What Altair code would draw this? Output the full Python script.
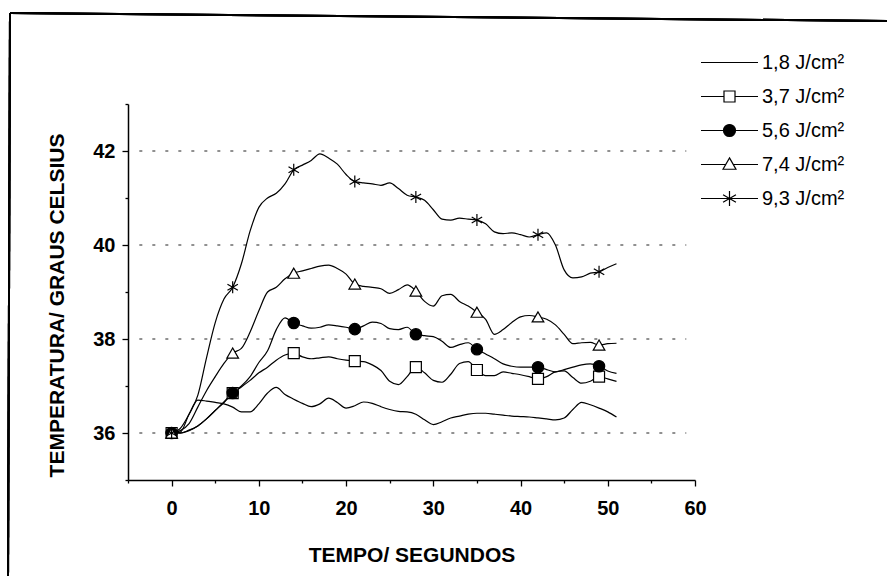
import altair as alt
import pandas as pd

# Tempo (s) e temperatura (°C) para cada fluência
time_s = list(range(0, 52))

temp_18 = [36.00, 36.02, 36.40, 36.70, 36.68, 36.65, 36.62, 36.55, 36.45, 36.45,
           36.62, 36.85, 36.97, 36.82, 36.72, 36.63, 36.56, 36.62, 36.74, 36.65,
           36.53, 36.58, 36.66, 36.63, 36.56, 36.50, 36.46, 36.45, 36.40, 36.28,
           36.18, 36.24, 36.32, 36.36, 36.40, 36.42, 36.42, 36.40, 36.38, 36.36,
           36.35, 36.34, 36.32, 36.30, 36.28, 36.32, 36.50, 36.65, 36.60, 36.53,
           36.45, 36.34]

temp_37 = [36.00, 36.00, 36.06, 36.15, 36.30, 36.48, 36.66, 36.85, 36.98, 37.12,
           37.28, 37.40, 37.55, 37.66, 37.70, 37.62, 37.58, 37.60, 37.62, 37.58,
           37.55, 37.53, 37.52, 37.45, 37.33, 37.10, 37.03, 37.20, 37.40, 37.28,
           37.12, 37.08, 37.25, 37.48, 37.52, 37.34, 37.22, 37.22, 37.30, 37.27,
           37.24, 37.20, 37.15, 37.20, 37.30, 37.32, 37.18, 37.06, 37.10, 37.20,
           37.15, 37.10]

temp_56 = [36.00, 36.00, 36.05, 36.15, 36.30, 36.48, 36.65, 36.85, 37.00, 37.20,
           37.50, 37.75, 38.20, 38.45, 38.34, 38.28, 38.23, 38.25, 38.30, 38.28,
           38.25, 38.21, 38.28, 38.36, 38.33, 38.22, 38.20, 38.25, 38.10, 38.07,
           38.05, 37.95, 37.82, 37.88, 37.92, 37.78, 37.68, 37.58, 37.47, 37.42,
           37.40, 37.40, 37.40, 37.35, 37.30, 37.35, 37.40, 37.45, 37.47, 37.42,
           37.32, 37.27]

temp_74 = [36.00, 36.05, 36.20, 36.55, 36.90, 37.20, 37.48, 37.70, 37.80, 38.15,
           38.60, 39.00, 39.10, 39.28, 39.40, 39.45, 39.50, 39.55, 39.57, 39.50,
           39.38, 39.17, 39.12, 39.10, 39.07, 38.97, 39.05, 39.15, 39.02, 38.80,
           38.70, 38.92, 38.95, 38.80, 38.70, 38.57, 38.42, 38.10, 38.20, 38.35,
           38.47, 38.50, 38.47, 38.42, 38.30, 38.10, 37.90, 37.92, 37.93, 37.87,
           37.90, 37.91]

temp_93 = [36.00, 36.10, 36.40, 36.80, 37.60, 38.35, 38.85, 39.10, 39.60, 40.30,
           40.80, 41.00, 41.10, 41.30, 41.60, 41.70, 41.80, 41.94, 41.85, 41.72,
           41.50, 41.35, 41.32, 41.30, 41.27, 41.32, 41.20, 41.06, 41.02, 40.95,
           40.75, 40.55, 40.53, 40.57, 40.55, 40.53, 40.45, 40.28, 40.24, 40.26,
           40.22, 40.17, 40.22, 40.26, 40.00, 39.47, 39.30, 39.32, 39.40, 39.43,
           39.52, 39.60]

series_labels = ["1,8 J/cm²", "3,7 J/cm²", "5,6 J/cm²", "7,4 J/cm²", "9,3 J/cm²"]
marker_times = [0, 7, 14, 21, 28, 35, 42, 49]
grid_values = [36, 38, 40, 42]

rows = []
for order, (label, values) in enumerate(
        zip(series_labels, [temp_18, temp_37, temp_56, temp_74, temp_93])):
    for t, v in zip(time_s, values):
        rows.append({"serie": label, "ordem": order, "t": t, "temp": v})
df = pd.DataFrame(rows)
grid_df = pd.DataFrame({"temp": grid_values})

FONT = "Liberation Sans"
STAR = "M0,-1V1M-0.87,-0.5L0.87,0.5M-0.87,0.5L0.87,-0.5"

x_enc = alt.X(
    "t:Q",
    scale=alt.Scale(domain=[-5, 60], nice=False, zero=False),
    axis=alt.Axis(
        values=list(range(-5, 61, 5)),
        labelExpr="datum.value % 10 === 0 ? datum.label : ''",
        tickSize={"condition": {"test": "datum.value % 10 === 0", "value": 6}, "value": 3},
        grid=False, domainColor="black", domainWidth=1.5, tickColor="black",
        tickWidth=1.3, labelFont=FONT, labelFontSize=20, labelFontWeight="bold",
        labelColor="black", labelPadding=12, labelFlush=False, labelOverlap=False,
        title="TEMPO/ SEGUNDOS", titleFont=FONT, titleFontSize=21,
        titleFontWeight="bold", titleColor="black", titleY=75,
        titleBaseline="middle",
    ),
)
y_enc = alt.Y(
    "temp:Q",
    scale=alt.Scale(domain=[35, 43], nice=False, zero=False),
    axis=alt.Axis(
        values=list(range(35, 44)),
        labelExpr="datum.value % 2 === 0 ? datum.label : ''",
        tickSize={"condition": {"test": "datum.value % 2 === 0", "value": 6}, "value": 3},
        grid=False, domainColor="black", domainWidth=1.5, tickColor="black",
        tickWidth=1.3, labelFont=FONT, labelFontSize=20, labelFontWeight="bold",
        labelColor="black", labelPadding=7, labelFlush=False, labelOverlap=False,
        title="TEMPERATURA/ GRAUS CELSIUS", titleFont=FONT, titleFontSize=21,
        titleFontWeight="bold", titleColor="black", titleAngle=270, titleX=-71,
        titleY=201, titleBaseline="middle",
    ),
)

# Linhas pontilhadas de referência
grid = alt.Chart(grid_df).mark_rule(
    color="#222222", strokeWidth=1, strokeDash=[3, 10]
).encode(y=y_enc, x=alt.datum(-3.7), x2=alt.datum(59))

# Curvas de temperatura
lines = alt.Chart(df).mark_line(
    color="black", strokeWidth=1.2, interpolate="monotone"
).encode(x=x_enc, y=y_enc, detail="serie:N")

# Marcadores a cada 7 s
marked = series_labels[1:]
markers = alt.Chart(df).transform_filter(
    alt.FieldOneOfPredicate(field="t", oneOf=marker_times)
).transform_filter(
    alt.datum.ordem > 0
).mark_point(stroke="black", strokeWidth=1.2, opacity=1).encode(
    x=x_enc, y=y_enc,
    shape=alt.Shape("serie:N", scale=alt.Scale(
        domain=marked, range=["square", "circle", "triangle-up", STAR]), legend=None),
    fill=alt.Fill("serie:N", scale=alt.Scale(
        domain=marked, range=["white", "black", "white", "transparent"]), legend=None),
    size=alt.Size("serie:N", scale=alt.Scale(
        domain=marked, range=[121, 144, 169, 225]), legend=None),
    order=alt.Order("ordem:Q"),
)

# Legenda: traço com o marcador de cada série
legend_paths = [
    "M-3,0H3",
    "M-3,0H-0.58M0.58,0H3M-0.58,-0.58H0.58V0.58H-0.58Z",
    "M-3,0H3M0.63,0A0.63,0.63,0,1,1,-0.63,0A0.63,0.63,0,1,1,0.63,0Z",
    "M-3,0H-0.4M0.4,0H3M0,-0.7L0.68,0.5H-0.68Z",
    "M-3,0H3M0,-0.78V0.78M-0.68,-0.39L0.68,0.39M-0.68,0.39L0.68,-0.39",
]
legend_cfg = alt.Legend(
    title=None, orient="none", legendX=591, legendY=-52, padding=0,
    symbolSize=361, symbolStrokeWidth=1.2,
    labelFont=FONT, labelFontSize=20, labelColor="black", labelOffset=22,
    rowPadding=13, labelLimit=300,
)
legend_layer = alt.Chart(df).transform_filter("false").mark_point(
    strokeWidth=1.2, opacity=1, size=361
).encode(
    x=x_enc, y=y_enc,
    shape=alt.Shape("serie:N", scale=alt.Scale(domain=series_labels, range=legend_paths),
                    legend=legend_cfg),
    fill=alt.Fill("serie:N", scale=alt.Scale(
        domain=series_labels, range=["transparent", "white", "black", "white", "transparent"]),
        legend=legend_cfg),
    stroke=alt.Stroke("serie:N", scale=alt.Scale(
        domain=series_labels, range=["black"] * 5), legend=legend_cfg),
)

# Moldura da figura
frame_top = alt.Chart(grid_df).mark_rule(color="black", strokeWidth=2).encode(
    x=alt.value(-118), x2=alt.value(759), y=alt.value(-91), y2=alt.value(-83))
frame_left = alt.Chart(grid_df).mark_rule(color="black", strokeWidth=2).encode(
    x=alt.value(-118), x2=alt.value(-120), y=alt.value(-91), y2=alt.value(480))

chart = alt.layer(
    frame_top, frame_left, grid, lines, markers, legend_layer
).resolve_scale(
    shape="independent", fill="independent", size="independent", stroke="independent"
).properties(
    width=567, height=376,
    padding={"left": 128, "top": 104, "right": 192, "bottom": 96},
    autosize=alt.AutoSizeParams(type="none"),
    background="white",
).configure_view(stroke=None)

chart.save("out.html", embed_options={"renderer": "svg", "actions": False})
